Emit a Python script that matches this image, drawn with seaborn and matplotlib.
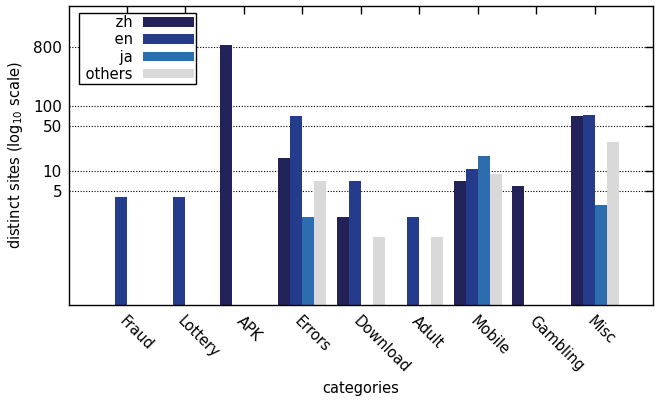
import numpy as np
import pandas as pd
import matplotlib
matplotlib.use("Agg")
import matplotlib.pyplot as plt
import seaborn as sns

categories = ["Fraud", "Lottery", "APK", "Errors", "Download", "Adult", "Mobile", "Gambling", "Misc"]
langs = ["zh", "en", "ja", "others"]
zh = [None, None, 870, 16, 2, None, 7, 6, 70]
en = [4, 4, None, 70, 7, 2, 11, None, 72]
ja = [None, None, None, 2, None, None, 17, None, 3]
others = [None, None, None, 7, 1, 1, 9, None, 28]
colors = {"zh": "#232258", "en": "#253b8b", "ja": "#2d6dad", "others": "#d9d9d9"}
yticks = [5, 10, 50, 100, 800]

series = {"zh": zh, "en": en, "ja": ja, "others": others}
rows = []
for lang in langs:
    for cat, v in zip(categories, series[lang]):
        rows.append({"category": cat, "lang": lang, "count": np.nan if v is None else v})
df = pd.DataFrame(rows)

sns.set_style("white")
plt.rcParams["font.family"] = ["DejaVu Sans"]
plt.rcParams["font.size"] = 10.5
plt.rcParams["text.color"] = "black"
plt.rcParams["axes.labelcolor"] = "black"
plt.rcParams["xtick.color"] = "black"
plt.rcParams["ytick.color"] = "black"

fig = plt.figure(figsize=(6.6, 4.03), dpi=100)
ax = fig.add_axes([69/660, 1-305/403, (652.7-69)/660, (305-6)/403])

sns.barplot(data=df, x="category", y="count", hue="lang", order=categories,
            hue_order=langs, palette=colors, width=0.82, gap=0, errorbar=None,
            saturation=1, ax=ax, zorder=2, linewidth=0, edgecolor="none")
ax.set_yscale("log")
ax.set_ylim(0.0897, 3400)
ax.set_xlim(-0.99, 8.99)
ax.set_yticks(yticks)
ax.set_yticklabels([str(t) for t in yticks])
ax.yaxis.set_minor_locator(matplotlib.ticker.NullLocator())
ax.grid(axis="y", color="black", linestyle=(0, (1, 1.5)), linewidth=0.8, zorder=0)
ax.set_axisbelow(True)

for s in ax.spines.values():
    s.set_visible(True)
    s.set_color("black")
    s.set_linewidth(1.0)

ax.tick_params(axis="both", which="major", direction="in", length=5.5, width=1,
               color="black", top=True, right=True, labelsize=10.5, labelcolor="black")
ax.tick_params(axis="y", pad=5, labelsize=11)
ax.tick_params(axis="x", pad=6)
for lab in ax.get_xticklabels():
    lab.set_rotation(-45)
    lab.set_ha("left")
    lab.set_va("top")
    lab.set_rotation_mode("anchor")

ax.set_xlabel("categories", fontsize=10.5, labelpad=4, color="black")
ax.set_ylabel("distinct sites (log$_{10}$ scale)", fontsize=10.5, labelpad=6, color="black")

handles, labels = ax.get_legend_handles_labels()
if ax.get_legend() is not None:
    ax.get_legend().remove()
leg = ax.legend(handles, [" " + l for l in labels], loc="upper left",
                bbox_to_anchor=((79-69)/583.7, 1-7/299), borderaxespad=0,
                markerfirst=False, fancybox=False, framealpha=1, edgecolor="black",
                handlelength=3.5, handleheight=0.65, handletextpad=0.7,
                labelspacing=0.15, borderpad=0.15, fontsize=10.5)
leg.get_frame().set_linewidth(1.0)
for t in leg.get_texts():
    t.set_ha("right")
    t.set_color("black")
leg.set_zorder(5)

fig.savefig("out.png", dpi=100)
